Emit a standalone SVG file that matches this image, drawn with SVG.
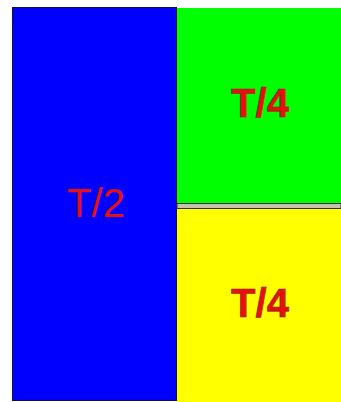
<svg xmlns="http://www.w3.org/2000/svg" width="341" height="402" viewBox="0 0 341 402">
<style>
.lbl{font-family:"Liberation Sans",Arial,sans-serif;font-size:40px;fill:#e8100c;text-anchor:middle}
.b{font-weight:bold;stroke:#8a1a00;stroke-width:0.6}
</style>
<rect width="341" height="402" fill="#fff"/>
<g id="half">
<rect x="12.5" y="7.5" width="164" height="393" fill="#0000ff" stroke="#101040" stroke-width="1"/>
<text class="lbl" x="96" y="217">T/2</text>
</g>
<g id="quarter-top">
<rect x="177" y="8" width="164" height="196" fill="#00ff00"/>
<text class="lbl b" x="260" y="117">T/4</text>
</g>
<g id="divider">
<rect x="177" y="203.5" width="164" height="5" fill="#c8c0b0" stroke="#303030" stroke-width="1"/>
</g>
<g id="quarter-bottom">
<rect x="177" y="209" width="164" height="193" fill="#ffff00"/>
<text class="lbl b" x="260" y="317">T/4</text>
</g>
</svg>
